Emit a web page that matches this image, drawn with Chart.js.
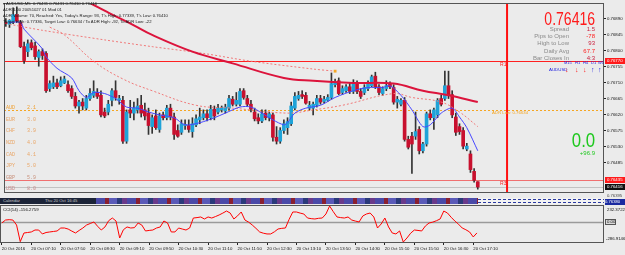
<!DOCTYPE html>
<html>
<head>
<meta charset="utf-8">
<script src="https://cdn.jsdelivr.net/npm/chart.js@4.4.1/dist/chart.umd.min.js"></script>
<style>
html,body{margin:0;padding:0;background:#ebebeb;}
#wrap{position:relative;width:625px;height:255px;overflow:hidden;font-family:'Liberation Sans',Arial,sans-serif;}
canvas{position:absolute;left:0;}
.t{position:absolute;white-space:pre;line-height:1;}
.hd{font-size:4.2px;color:#1a1a1a;left:3px;}
.cur{font-family:'Liberation Mono',monospace;font-size:5px;left:6px;}
.lab{font-size:6px;color:#8a8a8a;right:56px;}
.val{font-size:6px;right:30px;}
</style>
</head>
<body>
<div id="wrap">
  <canvas id="main" width="625" height="196" style="top:0"></canvas>
  <div id="cal" style="position:absolute;left:0;top:198px;width:604px;height:6px;background:#1c2438;">
    <span class="t" style="left:3px;top:1px;font-size:4.2px;color:#c8c8c8">Calendar</span>
    <span class="t" style="left:45px;top:1px;font-size:4.2px;color:#c8c8c8">Thu 20 Oct 16:45</span>
    <div style="position:absolute;left:96px;top:0;width:382px;height:6px;background:repeating-linear-gradient(90deg,#4a4aa8 0 9px,#8a2030 9px 13px,#5a5ab8 13px 21px,#2a3a7a 21px 26px,#6a3a8a 26px 31px);"></div>
    <div style="position:absolute;left:478px;top:0;width:126px;height:6px;background:#f2f2f2;">
      <div style="position:absolute;left:0;top:1px;width:126px;height:1px;background:repeating-linear-gradient(90deg,#2a3aa0 0 3px,transparent 3px 5px);"></div>
      <div style="position:absolute;left:0;top:4px;width:126px;height:1px;background:repeating-linear-gradient(90deg,#2a3aa0 0 3px,transparent 3px 5px);"></div>
    </div>
  </div>
  <span class="t" style="left:607px;top:194px;font-size:4.2px;color:#444">0.76395</span>
  <span class="t" style="left:605px;top:199px;width:20px;height:5px;font-size:4.2px;color:#fff;background:#1a2aa0;padding-top:0.5px">0.76380</span>
  <canvas id="cci" width="625" height="50" style="top:205px"></canvas>

  <!-- header lines -->
  <span class="t hd" style="top:2px">▾ AUDUSD,M5  0.76431 0.76431 0.76410 0.76416</span>
  <span class="t hd" style="top:8px">ADR 1.00 20051027 01 Mod 01</span>
  <span class="t hd" style="top:13.5px">ADR Volume: 70, Reached: Yes, Today's Range: 93, T's High: 0.77339, T's Low: 0.76410</span>
  <span class="t hd" style="top:19.5px">Target High: 0.77336, Target Low: 0.76634 / To ADR High: -92, To ADR Low: -22</span>

  <!-- currency strength -->
  <span class="t cur" style="top:105.5px;color:#f0a030">AUD    2.1</span>
  <span class="t cur" style="top:117.5px;color:#eaa565">EUR    3.0</span>
  <span class="t cur" style="top:129px;color:#eaa565">CHF    3.9</span>
  <span class="t cur" style="top:140.5px;color:#eaa565">NZD    4.0</span>
  <span class="t cur" style="top:152.5px;color:#eaa565">CAD    4.1</span>
  <span class="t cur" style="top:164px;color:#eaa565">JPY    5.0</span>
  <span class="t cur" style="top:175.5px;color:#c8907a">GBP    5.9</span>
  <span class="t cur" style="top:186.5px;color:#c88a8a">USD    8.0</span>

  <!-- info panel -->
  <span class="t" style="right:30px;top:10px;font-size:18px;color:#ff1a1a;transform:scaleX(0.78);transform-origin:right top">0.76416</span>
  <span class="t lab" style="top:26px">Spread</span><span class="t val" style="top:26px;color:#c81e3c">1.5</span>
  <span class="t lab" style="top:33px">Pips to Open</span><span class="t val" style="top:33px;color:#ff2020">-78</span>
  <span class="t lab" style="top:40px">High to Low</span><span class="t val" style="top:40px;color:#c81e3c">93</span>
  <span class="t lab" style="top:47.5px">Daily Avg</span><span class="t val" style="top:47.5px;color:#ff2020">67.7</span>
  <span class="t lab" style="top:54.5px">Bar Closes In</span><span class="t val" style="top:54.5px;color:#c81e3c">4:3</span>
  <span class="t" style="left:564px;top:61px;font-size:4px;color:#2020e0">M15</span>
  <span class="t" style="left:575px;top:61px;font-size:4px;color:#2020e0">H1</span>
  <span class="t" style="left:583px;top:61px;font-size:4px;color:#2020e0">H4</span>
  <span class="t" style="left:591px;top:61px;font-size:4px;color:#2020e0">D1</span>
  <span class="t" style="left:598px;top:61px;font-size:4px;color:#2020e0">W1</span>
  <span class="t" style="left:549px;top:67.5px;font-size:4.4px;color:#2020e0">AUDUSD</span>
  <span class="t" style="left:565px;top:66px;font-size:7px;font-weight:bold;color:#ff1a1a">↓</span>
  <span class="t" style="left:575px;top:66px;font-size:7px;font-weight:bold;color:#ff1a1a">↓</span>
  <span class="t" style="left:583px;top:66px;font-size:7px;font-weight:bold;color:#ff1a1a">↓</span>
  <span class="t" style="left:591px;top:66px;font-size:7px;font-weight:bold;color:#2020e0">↑</span>
  <span class="t" style="left:598px;top:66px;font-size:7px;font-weight:bold;color:#2020e0">↑</span>
  <span class="t" style="right:30px;top:129px;font-size:21px;color:#1ec81e;transform:scaleX(0.8);transform-origin:right top">0.0</span>
  <span class="t" style="right:30px;top:150px;font-size:6px;color:#1ec81e">+96.9</span>
</div>

<script>
// AUDUSD M5 candles, 20 Oct 2016 from 06:30
const opens = [
  0.76879,0.76874,0.76882,0.76901,0.76879,0.76811,0.76797,0.76822,0.76813,0.76781,
  0.76797,0.76792,0.76693,0.76698,0.76709,0.76701,0.76709,0.76704,0.76693,0.76671,
  0.76644,0.76655,0.76638,0.76665,0.76674,0.76682,0.76674,0.76627,0.76627,0.76660,
  0.76687,0.76660,0.76660,0.76545,0.76633,0.76624,0.76633,0.76646,0.76633,0.76624,
  0.76586,0.76616,0.76578,0.76619,0.76611,0.76638,0.76613,0.76575,0.76570,0.76589,
  0.76589,0.76572,0.76591,0.76605,0.76611,0.76622,0.76611,0.76635,0.76627,0.76633,
  0.76630,0.76638,0.76663,0.76649,0.76649,0.76687,0.76665,0.76649,0.76627,0.76611,
  0.76602,0.76624,0.76611,0.76619,0.76556,0.76545,0.76575,0.76583,0.76594,0.76638,
  0.76665,0.76676,0.76674,0.76638,0.76638,0.76646,0.76665,0.76657,0.76660,0.76668,
  0.76704,0.76715,0.76682,0.76687,0.76698,0.76685,0.76709,0.76685,0.76682,0.76693,
  0.76701,0.76728,0.76698,0.76679,0.76693,0.76707,0.76696,0.76655,0.76649,0.76660,
  0.76550,0.76559,0.76559,0.76578,0.76518,0.76537,0.76622,0.76611,0.76619,0.76665,
  0.76665,0.76701,0.76676,0.76613,0.76586,0.76575,0.76523,0.76509,0.76460,0.76431
];
const highs = [
  0.76890,0.76887,0.76920,0.76923,0.76885,0.76824,0.76830,0.76830,0.76824,0.76802,
  0.76805,0.76797,0.76715,0.76728,0.76720,0.76726,0.76728,0.76715,0.76701,0.76682,
  0.76660,0.76665,0.76674,0.76693,0.76715,0.76693,0.76687,0.76638,0.76660,0.76693,
  0.76715,0.76674,0.76671,0.76633,0.76660,0.76655,0.76665,0.76674,0.76652,0.76638,
  0.76619,0.76633,0.76624,0.76627,0.76646,0.76649,0.76624,0.76591,0.76605,0.76605,
  0.76605,0.76611,0.76619,0.76638,0.76633,0.76633,0.76646,0.76644,0.76649,0.76644,
  0.76649,0.76674,0.76671,0.76682,0.76693,0.76693,0.76674,0.76660,0.76638,0.76622,
  0.76633,0.76633,0.76627,0.76624,0.76586,0.76583,0.76605,0.76611,0.76655,0.76682,
  0.76685,0.76687,0.76682,0.76657,0.76655,0.76674,0.76674,0.76671,0.76676,0.76737,
  0.76720,0.76723,0.76701,0.76704,0.76709,0.76718,0.76715,0.76693,0.76704,0.76715,
  0.76731,0.76739,0.76704,0.76698,0.76715,0.76712,0.76704,0.76671,0.76665,0.76668,
  0.76559,0.76570,0.76627,0.76586,0.76542,0.76627,0.76633,0.76638,0.76665,0.76674,
  0.76742,0.76742,0.76687,0.76624,0.76594,0.76583,0.76539,0.76518,0.76468,0.76431
];
const lows = [
  0.76868,0.76865,0.76876,0.76879,0.76808,0.76764,0.76783,0.76802,0.76775,0.76756,
  0.76775,0.76682,0.76685,0.76693,0.76693,0.76698,0.76707,0.76682,0.76665,0.76638,
  0.76624,0.76633,0.76633,0.76660,0.76668,0.76665,0.76613,0.76611,0.76619,0.76644,
  0.76660,0.76649,0.76539,0.76539,0.76611,0.76605,0.76624,0.76613,0.76605,0.76564,
  0.76567,0.76578,0.76570,0.76605,0.76605,0.76605,0.76550,0.76556,0.76564,0.76578,
  0.76570,0.76556,0.76586,0.76594,0.76605,0.76602,0.76605,0.76605,0.76622,0.76627,
  0.76624,0.76633,0.76644,0.76644,0.76644,0.76663,0.76644,0.76627,0.76602,0.76594,
  0.76597,0.76605,0.76602,0.76545,0.76537,0.76539,0.76567,0.76564,0.76589,0.76633,
  0.76660,0.76665,0.76649,0.76633,0.76619,0.76641,0.76649,0.76652,0.76657,0.76663,
  0.76698,0.76676,0.76676,0.76682,0.76679,0.76679,0.76679,0.76665,0.76676,0.76687,
  0.76698,0.76693,0.76676,0.76674,0.76687,0.76693,0.76649,0.76638,0.76644,0.76545,
  0.76523,0.76454,0.76550,0.76509,0.76512,0.76531,0.76605,0.76578,0.76611,0.76644,
  0.76660,0.76665,0.76611,0.76561,0.76564,0.76523,0.76518,0.76457,0.76430,0.76410
];
const closes = [
  0.76876,0.76885,0.76901,0.76882,0.76811,0.76772,0.76819,0.76808,0.76783,0.76797,
  0.76786,0.76687,0.76707,0.76709,0.76698,0.76715,0.76720,0.76687,0.76671,0.76644,
  0.76655,0.76644,0.76665,0.76679,0.76685,0.76671,0.76619,0.76616,0.76649,0.76687,
  0.76668,0.76665,0.76545,0.76627,0.76624,0.76638,0.76644,0.76624,0.76616,0.76589,
  0.76611,0.76583,0.76616,0.76611,0.76638,0.76613,0.76564,0.76559,0.76594,0.76591,
  0.76578,0.76594,0.76608,0.76613,0.76622,0.76611,0.76635,0.76616,0.76638,0.76638,
  0.76641,0.76665,0.76649,0.76660,0.76685,0.76668,0.76649,0.76635,0.76608,0.76602,
  0.76622,0.76611,0.76622,0.76556,0.76545,0.76575,0.76594,0.76600,0.76644,0.76671,
  0.76674,0.76671,0.76652,0.76646,0.76649,0.76665,0.76655,0.76663,0.76668,0.76707,
  0.76712,0.76679,0.76693,0.76698,0.76685,0.76709,0.76685,0.76671,0.76696,0.76707,
  0.76726,0.76698,0.76682,0.76693,0.76701,0.76698,0.76655,0.76663,0.76660,0.76550,
  0.76528,0.76537,0.76572,0.76518,0.76537,0.76622,0.76611,0.76633,0.76660,0.76649,
  0.76701,0.76676,0.76619,0.76570,0.76572,0.76531,0.76531,0.76465,0.76435,0.76416
];

// moving averages at some bars
const blueTimes = ['06:35','06:50','06:55','07:20','07:25','07:40','08:00','08:10','08:20','08:30','08:45','09:00','09:15','09:30','09:45','10:00','10:20','10:35','10:55','11:15','11:30','11:50','12:05','12:20','12:35','12:50','12:55','13:05','13:20','13:40','14:00','14:25','14:45','15:05','15:15','15:30','15:45','16:00','16:10','16:25','16:40','16:50','17:00','17:15'];
const blueValues = [0.76879,0.76879,0.76860,0.76805,0.76783,0.76750,0.76723,0.76687,0.76668,0.76682,0.76679,0.76665,0.76641,0.76638,0.76627,0.76619,0.76611,0.76591,0.76597,0.76611,0.76624,0.76641,0.76641,0.76624,0.76605,0.76591,0.76597,0.76624,0.76638,0.76646,0.76668,0.76687,0.76696,0.76696,0.76701,0.76674,0.76633,0.76586,0.76591,0.76624,0.76638,0.76613,0.76583,0.76518];
const redTimes = ['06:30','07:10','07:50','08:25','08:50','09:25','09:50','10:45','11:40','12:50','13:30','14:25','15:20','16:00','16:35','17:15'];
const redValues = [0.77080,0.77030,0.76975,0.76934,0.76907,0.76871,0.76844,0.76797,0.76764,0.76723,0.76715,0.76709,0.76707,0.76687,0.76674,0.76655];
const dotATimes = ['06:35','07:20','08:45','09:50','11:00','12:05','13:30','14:00'];
const dotAValues = [0.76874,0.76857,0.76830,0.76811,0.76792,0.76770,0.76748,0.76742];
const dotBTimes = ['07:30','07:50','08:30','09:10','09:50','10:50','11:40','12:55','13:30','14:10','15:20','15:45','16:25','16:50','17:15'];
const dotBValues = [0.76866,0.76844,0.76770,0.76720,0.76687,0.76646,0.76638,0.76624,0.76633,0.76646,0.76679,0.76668,0.76655,0.76627,0.76586];

// CCI(14)
const cciValues = [
  -13,30,35,30,-42,-282,-157,-150,-142,-114,
  -114,-171,-150,-142,-135,-128,-85,-85,-100,-130,
  -157,-120,-85,-42,-20,2,-60,-114,-70,20,
  59,16,-229,-110,-70,-85,-80,-13,-42,-128,
  -120,-114,-85,-70,16,-13,-142,-142,-85,-100,
  -114,-85,59,65,74,45,74,59,80,103,
  130,160,131,45,90,146,30,0,-42,-90,
  -142,-160,-171,-171,-140,-99,-90,-85,40,146,
  146,130,117,59,50,45,55,59,117,232.3722,
  150,74,65,59,74,30,15,2,88,117,
  131,74,-85,-27,59,-70,-157,-171,-128,-286.9146,
  -229,-160,-114,-120,-128,-56,-13,0,20,45,
  160,131,70,16,-30,-85,-110,-142,-214,-156.2759
];

const priceTicks = [0.76890,0.76845,0.76800,0.76755,0.76710,0.76665,0.76620,0.76575,0.76530,0.76485];
const priceMin = 0.76402, priceMax = 0.76931;
const r1Level = 0.76770, r3Level = 0.76435, adrLowLevel = 0.76634, bidLevel = 0.76416;
const separatorTime = '17:55';
const cciMax = 232.3722, cciMin = -286.9146;

// 5 minute slots, the chart keeps empty space on the right
const barTimes = [];
for (let m = 6 * 60 + 30; barTimes.length < 164; m += 5) {
  barTimes.push(String(Math.floor(m / 60)).padStart(2, '0') + ':' + String(m % 60).padStart(2, '0'));
}

Chart.defaults.font.family = "'Liberation Sans', Arial, sans-serif";

const pts = (times, vals) => times.map((t, i) => ({x: t, y: vals[i]}));

const mainDecor = {
  id: 'mainDecor',
  beforeDatasetsDraw(chart) {
    const {ctx, chartArea: a, scales: {x, y}} = chart;
    ctx.save();
    const hline = (v, color, dash) => {
      const py = Math.round(y.getPixelForValue(v)) + 0.5;
      ctx.strokeStyle = color; ctx.lineWidth = 1; ctx.setLineDash(dash || []);
      ctx.beginPath(); ctx.moveTo(a.left, py); ctx.lineTo(a.right, py); ctx.stroke();
    };
    hline(bidLevel, '#c2c2c2');
    hline(adrLowLevel, '#f5a623', [2, 2]);
    hline(r1Level, '#ff2020');
    hline(r3Level, '#f07070');
    ctx.setLineDash([]);
    const sx = x.getPixelForValue(barTimes.indexOf(separatorTime));
    ctx.strokeStyle = '#ff1010'; ctx.lineWidth = 2;
    ctx.beginPath(); ctx.moveTo(sx, a.top); ctx.lineTo(sx, a.bottom); ctx.stroke();
    ctx.restore();
  },
  afterDraw(chart) {
    const {ctx, chartArea: a, scales: {x, y}} = chart;
    ctx.save();
    ctx.strokeStyle = '#555'; ctx.lineWidth = 1;
    ctx.strokeRect(a.left + 0.5, a.top - 0.5, a.width - 1, a.height + 1);
    const sx = x.getPixelForValue(barTimes.indexOf(separatorTime));
    ctx.font = "5px 'Liberation Sans'";
    ctx.textBaseline = 'middle';
    ctx.fillStyle = '#ff2020';
    ctx.fillText('R1', sx - 7, y.getPixelForValue(r1Level) + 3.5);
    ctx.fillText('R3', sx - 7, y.getPixelForValue(r3Level) + 3.5);
    ctx.font = "4.3px 'Liberation Sans'";
    ctx.fillStyle = '#f5a623';
    ctx.fillText('ADR Low: ' + adrLowLevel.toFixed(5), 492, y.getPixelForValue(adrLowLevel) + 3);
    const tag = (v, bg) => {
      const py = Math.round(y.getPixelForValue(v));
      ctx.fillStyle = bg; ctx.fillRect(a.right + 1, py - 3, 20, 6);
      ctx.fillStyle = '#fff'; ctx.fillText(v.toFixed(5), a.right + 3, py + 0.3);
    };
    tag(r1Level, '#ff1a1a');
    tag(r3Level, '#ff1a1a');
    tag(bidLevel, '#111');
    ctx.restore();
  }
};

new Chart(document.getElementById('main'), {
  type: 'bar',
  data: {
    labels: barTimes,
    datasets: [
      {type: 'line', data: pts(blueTimes, blueValues), borderColor: '#4646ff', borderWidth: 1, pointRadius: 0, tension: 0.3, order: 0},
      {type: 'line', data: pts(redTimes, redValues), borderColor: '#dc143c', borderWidth: 2, pointRadius: 0, tension: 0.4, order: 0},
      {type: 'line', data: pts(dotATimes, dotAValues), borderColor: '#f07878', borderWidth: 1, borderDash: [2, 2], tension: 0.3, order: 0,
        pointStyle: 'rect', pointRadius: c => c.dataIndex === dotATimes.length - 1 ? 2 : 0, pointBackgroundColor: '#f5a623', pointBorderWidth: 0},
      {type: 'line', data: pts(dotBTimes, dotBValues), borderColor: '#f07878', borderWidth: 1, borderDash: [2, 2], pointRadius: 0, tension: 0.4, order: 0},
      {data: opens.map((o, i) => [o, closes[i]]), backgroundColor: opens.map((o, i) => closes[i] >= o ? '#1fa3d8' : '#c8102e'),
        barThickness: 3, minBarLength: 1, grouped: false, order: 1},
      {data: lows.map((l, i) => [l, highs[i]]), backgroundColor: '#333', barThickness: 1, grouped: false, order: 2}
    ]
  },
  options: {
    responsive: false, animation: false, events: [],
    layout: {padding: {top: 1, bottom: 2, left: 0, right: 0}},
    plugins: {legend: {display: false}, tooltip: {enabled: false}},
    scales: {
      x: {display: false, offset: true},
      y: {
        position: 'right', min: priceMin, max: priceMax,
        afterBuildTicks: ax => { ax.ticks = priceTicks.map(v => ({value: v})); },
        afterFit: ax => { ax.width = 21; },
        grid: {drawOnChartArea: false, tickLength: 2, color: '#222'},
        border: {display: false},
        ticks: {font: {size: 4.3}, color: '#111', padding: 1, autoSkip: false, callback: v => v.toFixed(5)}
      }
    }
  },
  plugins: [mainDecor]
});

const cciDecor = {
  id: 'cciDecor',
  beforeDatasetsDraw(chart) {
    const {ctx, chartArea: a, scales: {y}} = chart;
    const py = Math.round(y.getPixelForValue(0)) + 0.5;
    ctx.save();
    ctx.strokeStyle = '#9a9a9a'; ctx.lineWidth = 1.5;
    ctx.beginPath(); ctx.moveTo(a.left, py); ctx.lineTo(a.right, py); ctx.stroke();
    ctx.restore();
  },
  afterDraw(chart) {
    const {ctx, chartArea: a, scales: {y}} = chart;
    ctx.save();
    ctx.strokeStyle = '#555'; ctx.lineWidth = 1;
    ctx.strokeRect(a.left + 0.5, a.top - 0.5, a.width - 1, a.height + 1);
    ctx.font = "4.3px 'Liberation Sans'";
    ctx.textBaseline = 'middle';
    ctx.fillStyle = '#111';
    ctx.fillText('CCI(14) ' + cciValues[cciValues.length - 1].toFixed(4), 3, a.top + 4);
    ctx.fillText(cciMax.toFixed(4), a.right + 3, a.top + 4);
    ctx.fillText(cciMin.toFixed(4), a.right + 2, a.bottom - 3);
    const zy = Math.round(y.getPixelForValue(0));
    ctx.fillStyle = '#d8d8d8'; ctx.fillRect(a.right + 1, zy - 3, 11, 6);
    ctx.strokeStyle = '#555'; ctx.strokeRect(a.right + 1.5, zy - 2.5, 10, 5);
    ctx.fillStyle = '#111'; ctx.fillText('0.00', a.right + 3, zy + 0.3);
    ctx.restore();
  }
};

new Chart(document.getElementById('cci'), {
  type: 'line',
  data: {
    labels: barTimes,
    datasets: [{data: cciValues, borderColor: '#ff0000', borderWidth: 1, pointRadius: 0, tension: 0}]
  },
  options: {
    responsive: false, animation: false, events: [],
    layout: {padding: {top: 1, bottom: 0, left: 0, right: 0}},
    plugins: {legend: {display: false}, tooltip: {enabled: false}},
    scales: {
      x: {
        offset: true,
        afterFit: s => { s.height = 13; },
        grid: {drawOnChartArea: false, tickLength: 3, color: c => (c.index % 8 === 0 && c.index < opens.length) ? '#222' : 'rgba(0,0,0,0)'},
        border: {display: false},
        ticks: {
          autoSkip: false, maxRotation: 0, minRotation: 0, align: 'start', padding: 1,
          font: {size: 4.3}, color: '#111',
          callback: (v, i) => (i % 8 === 0 && i < opens.length) ? (i === 0 ? '20 Oct 2016' : '20 Oct ' + barTimes[i]) : ''
        }
      },
      y: {
        position: 'right', min: cciMin, max: cciMax,
        afterFit: s => { s.width = 21; },
        grid: {display: false}, border: {display: false}, ticks: {display: false}
      }
    }
  },
  plugins: [cciDecor]
});
</script>
</body>
</html>
